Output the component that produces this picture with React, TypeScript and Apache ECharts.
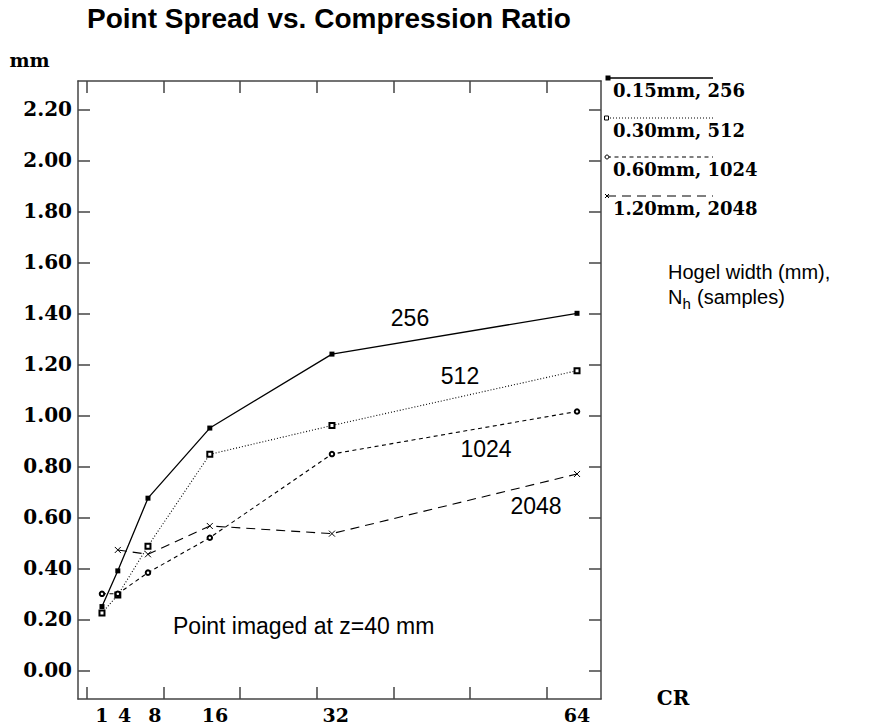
import React, { useEffect, useRef } from "react";
import * as echarts from "echarts";

const chartTitle = "Point Spread vs. Compression Ratio";
const crValues = [1, 3.1, 7.1, 15.3, 31.5, 64];
const seriesNames = ["256", "512", "1024", "2048"];
const legendLabels = ["0.15mm, 256", "0.30mm, 512", "0.60mm, 1024", "1.20mm, 2048"];
const spread256 = [0.25, 0.39, 0.675, 0.95, 1.24, 1.4];
const spread512 = [0.225, 0.295, 0.487, 0.847, 0.96, 1.175];
const spread1024 = [0.3, 0.3, 0.383, 0.52, 0.848, 1.015];
const spread2048: (number | null)[] = [null, 0.472, 0.455, 0.566, 0.536, 0.77];
const xLabelValues = [1, 4, 8, 16, 32, 64];
const xTickValues = [-1, 9.17, 19.33, 29.5, 39.67, 49.83, 60];
const yTickValues = [0, 0.2, 0.4, 0.6, 0.8, 1.0, 1.2, 1.4, 1.6, 1.8, 2.0, 2.2];
const yAxisName = "mm";
const xAxisName = "CR";
const noteText = "Point imaged at z=40 mm";
const legendTitle1 = "Hogel width (mm),";
const legendTitle2a = "N";
const legendTitle2b = "h";
const legendTitle2c = "(samples)";

const allSpreads = [spread256, spread512, spread1024, spread2048];

const SERIF = "DejaVu Serif";
const SANS = "Liberation Sans";
const AXIS_COLOR = "#444";

const lineDashes: any[] = ["solid", [1, 2], [4, 3.5], [9, 6]];
const lineWidths = [1.3, 1.1, 1.1, 1.1];
const symbols = ["rect", "emptyRect", "emptyCircle", "path://M0,0L10,10M10,0L0,10"];
const symbolSizes = [5, 5, 4.5, 6];

// label placement for series-name annotations (pixel centres)
const seriesLabelPos = [
  [410, 318],
  [460, 376],
  [486, 449],
  [536, 506],
];
const legendLineY = [78, 118, 157, 196];

export default function App() {
  const ref = useRef<HTMLDivElement>(null);

  useEffect(() => {
    if (!ref.current) return;
    const chart = echarts.init(ref.current, undefined, { renderer: "svg" });

    const xMin = -2.18;
    const xMax = 67.18;
    const yMin = -0.1125;
    const yMax = 2.311;

    const series = allSpreads.map((vals, i) => ({
      name: seriesNames[i],
      type: "line",
      data: crValues
        .map((x, j) => [x, vals[j]])
        .filter((p) => p[1] !== null && p[1] !== undefined),
      symbol: symbols[i],
      symbolSize: symbolSizes[i],
      showSymbol: true,
      lineStyle: { color: "#000", width: lineWidths[i], type: lineDashes[i] },
      itemStyle:
        i === 3
          ? { color: "none", borderColor: "#000", borderWidth: 1 }
          : i === 0
          ? { color: "#000" }
          : { color: "#000", borderColor: "#000", borderWidth: 1 },
      emphasis: { disabled: true },
      z: 3,
    }));

    const graphic: any[] = [];
    // legend
    legendLabels.forEach((lab, i) => {
      const y = legendLineY[i];
      graphic.push({
        type: "line",
        shape: { x1: 607, y1: y, x2: 713, y2: y },
        style: {
          stroke: "#000",
          lineWidth: lineWidths[i],
          lineDash: i === 0 ? null : lineDashes[i],
        },
        silent: true,
      });
      if (i === 0) {
        graphic.push({ type: "rect", shape: { x: 605.5, y: y - 2.5, width: 5, height: 5 }, style: { fill: "#000" } });
      } else if (i === 1) {
        graphic.push({ type: "rect", shape: { x: 604.5, y: y - 2, width: 4, height: 4 }, style: { fill: "#fff", stroke: "#000", lineWidth: 1 } });
      } else if (i === 2) {
        graphic.push({ type: "circle", shape: { cx: 607, cy: y, r: 2 }, style: { fill: "#fff", stroke: "#000", lineWidth: 1 } });
      } else {
        graphic.push({ type: "line", shape: { x1: 605, y1: y - 2, x2: 609, y2: y + 2 }, style: { stroke: "#000", lineWidth: 1 } });
        graphic.push({ type: "line", shape: { x1: 605, y1: y + 2, x2: 609, y2: y - 2 }, style: { stroke: "#000", lineWidth: 1 } });
      }
      graphic.push({
        type: "text",
        x: 613,
        y: y + 12.5,
        style: {
          text: lab,
          font: `bold 18px "${SERIF}"`,
          fill: "#000",
          textAlign: "left",
          textVerticalAlign: "middle",
        },
      });
    });
    // series annotations
    seriesNames.forEach((nm, i) => {
      graphic.push({
        type: "text",
        x: seriesLabelPos[i][0],
        y: seriesLabelPos[i][1],
        style: {
          text: nm,
          font: `23px "${SANS}"`,
          fill: "#000",
          textAlign: "center",
          textVerticalAlign: "middle",
        },
      });
    });
    graphic.push({
      type: "text",
      x: 173,
      y: 626,
      style: { text: noteText, font: `23px "${SANS}"`, fill: "#000", textAlign: "left", textVerticalAlign: "middle" },
    });
    graphic.push({
      type: "text",
      x: 668,
      y: 272,
      style: { text: legendTitle1, font: `20px "${SANS}"`, fill: "#000", textAlign: "left", textVerticalAlign: "middle" },
    });
    graphic.push({
      type: "text",
      x: 668,
      y: 297,
      style: { text: legendTitle2a, font: `20px "${SANS}"`, fill: "#000", textAlign: "left", textVerticalAlign: "middle" },
    });
    graphic.push({
      type: "text",
      x: 682.5,
      y: 303,
      style: { text: legendTitle2b, font: `15px "${SANS}"`, fill: "#000", textAlign: "left", textVerticalAlign: "middle" },
    });
    graphic.push({
      type: "text",
      x: 697,
      y: 297,
      style: { text: legendTitle2c, font: `20px "${SANS}"`, fill: "#000", textAlign: "left", textVerticalAlign: "middle" },
    });
    graphic.push({
      type: "text",
      x: 29.5,
      y: 60,
      style: { text: yAxisName, font: `bold 19px "${SERIF}"`, fill: "#000", textAlign: "center", textVerticalAlign: "middle" },
    });
    graphic.push({
      type: "text",
      x: 673,
      y: 698,
      style: { text: xAxisName, font: `bold 20px "${SERIF}"`, fill: "#000", textAlign: "center", textVerticalAlign: "middle" },
    });

    const tickStyle = { color: AXIS_COLOR, width: 1.5 };
    const lineSt = { color: AXIS_COLOR, width: 1.5 };
    const serifLabel = { fontFamily: SERIF, fontWeight: "bold" as const, color: "#000" };

    chart.setOption({
      animation: false,
      backgroundColor: "#fff",
      title: {
        text: chartTitle,
        left: 87,
        top: 4,
        padding: 0,
        textStyle: { fontFamily: SANS, fontWeight: "bold", fontSize: 28, color: "#000" },
      },
      grid: { left: 78, right: 285, top: 81, bottom: 29, containLabel: false },
      xAxis: [
        {
          type: "value",
          position: "bottom",
          min: xMin,
          max: xMax,
          axisLine: { show: true, onZero: false, lineStyle: lineSt },
          axisTick: { show: true, inside: true, length: 12, customValues: xTickValues, lineStyle: tickStyle },
          axisLabel: {
            show: true,
            customValues: xLabelValues,
            margin: 6,
            fontSize: 19,
            ...serifLabel,
            formatter: (v: number) => String(Math.round(v)),
          },
          splitLine: { show: false },
        },
        {
          type: "value",
          position: "top",
          min: xMin,
          max: xMax,
          axisLine: { show: true, onZero: false, lineStyle: lineSt },
          axisTick: { show: true, inside: true, length: 12, customValues: xTickValues, lineStyle: tickStyle },
          axisLabel: { show: false },
          splitLine: { show: false },
        },
      ],
      yAxis: [
        {
          type: "value",
          position: "left",
          min: yMin,
          max: yMax,
          axisLine: { show: true, onZero: false, lineStyle: lineSt },
          axisTick: { show: true, inside: true, length: 12, customValues: yTickValues, lineStyle: tickStyle },
          axisLabel: {
            show: true,
            customValues: yTickValues,
            margin: 6,
            fontSize: 20,
            ...serifLabel,
            formatter: (v: number) => v.toFixed(2),
          },
          splitLine: { show: false },
        },
        {
          type: "value",
          position: "right",
          min: yMin,
          max: yMax,
          axisLine: { show: true, onZero: false, lineStyle: lineSt },
          axisTick: { show: true, inside: true, length: 12, customValues: yTickValues, lineStyle: tickStyle },
          axisLabel: { show: false },
          splitLine: { show: false },
        },
      ],
      series,
      graphic,
    });

    return () => chart.dispose();
  }, []);

  return (
    <div
      ref={ref}
      style={{ position: "fixed", left: 0, top: 0, width: 886, height: 728, background: "#fff" }}
    />
  );
}
